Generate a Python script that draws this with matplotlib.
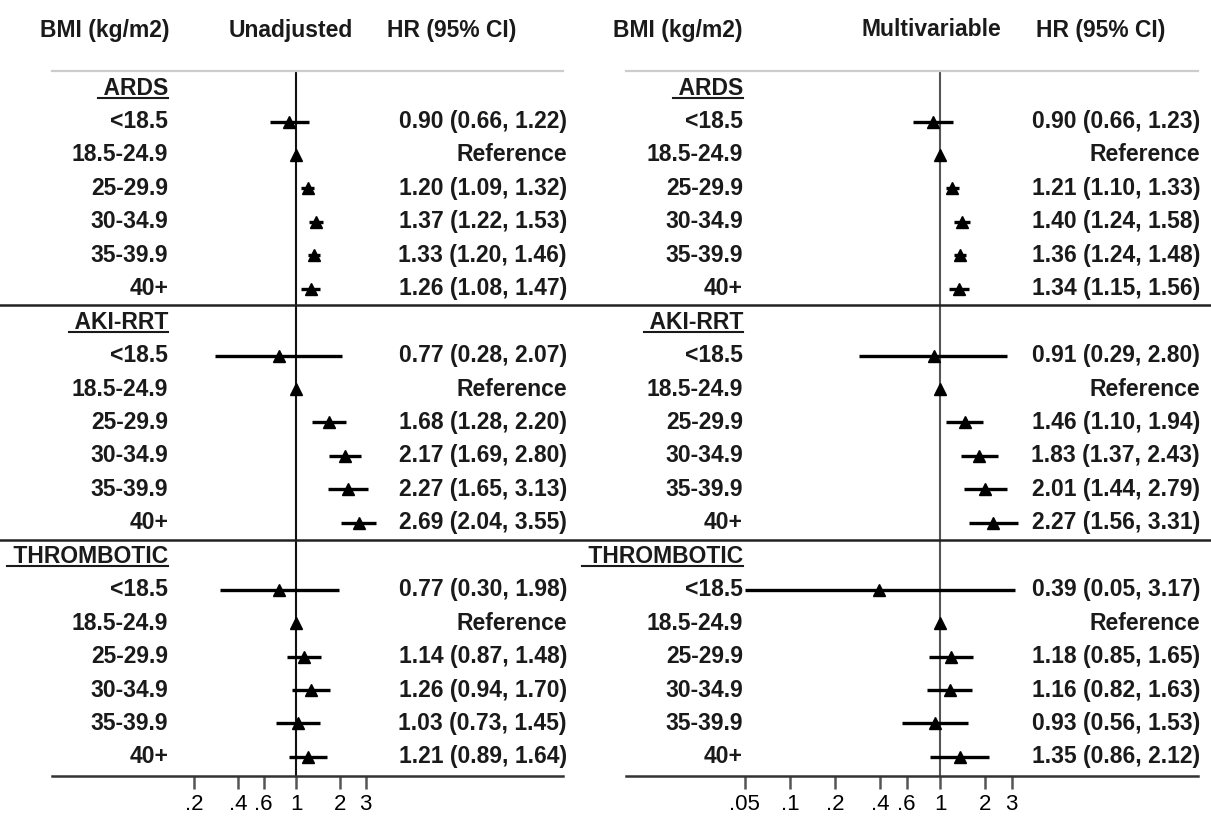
import numpy as np
import matplotlib
matplotlib.use('Agg')
import matplotlib.pyplot as plt
from matplotlib.lines import Line2D
from matplotlib import transforms

# Datos del forest plot
categorias = ['ARDS', 'AKI-RRT', 'THROMBOTIC']
grupos_bmi = ['<18.5', '18.5-24.9', '25-29.9', '30-34.9', '35-39.9', '40+']

# Sin ajustar (None = categoria de referencia)
hr_sin = [0.90, None, 1.20, 1.37, 1.33, 1.26,
          0.77, None, 1.68, 2.17, 2.27, 2.69,
          0.77, None, 1.14, 1.26, 1.03, 1.21]
li_sin = [0.66, None, 1.09, 1.22, 1.20, 1.08,
          0.28, None, 1.28, 1.69, 1.65, 2.04,
          0.30, None, 0.87, 0.94, 0.73, 0.89]
ls_sin = [1.22, None, 1.32, 1.53, 1.46, 1.47,
          2.07, None, 2.20, 2.80, 3.13, 3.55,
          1.98, None, 1.48, 1.70, 1.45, 1.64]

# Multivariable
hr_mul = [0.90, None, 1.21, 1.40, 1.36, 1.34,
          0.91, None, 1.46, 1.83, 2.01, 2.27,
          0.39, None, 1.18, 1.16, 0.93, 1.35]
li_mul = [0.66, None, 1.10, 1.24, 1.24, 1.15,
          0.29, None, 1.10, 1.37, 1.44, 1.56,
          0.05, None, 0.85, 0.82, 0.56, 0.86]
ls_mul = [1.23, None, 1.33, 1.58, 1.48, 1.56,
          2.80, None, 1.94, 2.43, 2.79, 3.31,
          3.17, None, 1.65, 1.63, 1.53, 2.12]

ticks_sin = [0.2, 0.4, 0.6, 1, 2, 3]
etiq_ticks_sin = ['.2', '.4', '.6', '1', '2', '3']
ticks_mul = [0.05, 0.1, 0.2, 0.4, 0.6, 1, 2, 3]
etiq_ticks_mul = ['.05', '.1', '.2', '.4', '.6', '1', '2', '3']

encabezados_sin = ['BMI (kg/m2)', 'Unadjusted', 'HR (95% CI)']
encabezados_mul = ['BMI (kg/m2)', 'Multivariable', 'HR (95% CI)']

W, H = 1211, 824
plt.rcParams['font.family'] = ['Liberation Sans', 'DejaVu Sans']
TAM = 16.5


def dibujar_panel(fig, caja, uno_px, px_decada, hr, li, ls, ticks, etiq_ticks,
                  x_etiq, x_hr, color_ref):
    x0, x1, y0, y1 = caja
    ax = fig.add_axes([x0 / W, 1 - y1 / H, (x1 - x0) / W, (y1 - y0) / H])
    ax.set_xscale('log')
    ax.set_xlim(10 ** (-(uno_px - x0) / px_decada), 10 ** ((x1 - uno_px) / px_decada))
    ax.set_ylim(20.57, -0.51)
    ax.minorticks_off()
    ax.set_xticks(ticks)
    ax.set_xticklabels(etiq_ticks)
    ax.set_yticks([])
    ax.tick_params(axis='x', length=9, width=1.8, color='#555555',
                   labelsize=16, pad=4)
    ax.spines['left'].set_visible(False)
    ax.spines['right'].set_visible(False)
    ax.spines['top'].set_color('#cccccc')
    ax.spines['top'].set_linewidth(1.6)
    ax.spines['bottom'].set_color('#333333')
    ax.spines['bottom'].set_linewidth(1.8)

    ax.axvline(1, color=color_ref, lw=1.5, zorder=1)

    tr = ax.get_yaxis_transform()
    fx_etiq = (x_etiq - x0) / (x1 - x0)
    fx_hr = (x_hr - x0) / (x1 - x0)
    titulos = []
    for c, cat in enumerate(categorias):
        fila = 7 * c
        t = ax.text(fx_etiq, fila, ' ' + cat, transform=tr, ha='right', va='center',
                    fontsize=TAM, weight='bold', color='#1a1a1a', clip_on=False)
        titulos.append(t)
        for g, grupo in enumerate(grupos_bmi):
            k = 6 * c + g
            y = fila + 1 + g
            ax.text(fx_etiq, y, grupo, transform=tr, ha='right', va='center',
                    fontsize=TAM, weight='bold', color='#1a1a1a', clip_on=False)
            if hr[k] is None:
                ax.plot([1], [y], marker='^', ms=9, color='black', zorder=3)
                ax.text(fx_hr, y, 'Reference', transform=tr, ha='right',
                        va='center', fontsize=TAM, weight='bold',
                        color='#1a1a1a', clip_on=False)
            else:
                ax.plot([li[k], ls[k]], [y, y], color='black', lw=2.4,
                        solid_capstyle='butt', zorder=2)
                ax.plot([hr[k]], [y], marker='^', ms=9, color='black', zorder=3)
                txt = '%.2f (%.2f, %.2f)' % (hr[k], li[k], ls[k])
                ax.text(fx_hr, y, txt, transform=tr, ha='right', va='center',
                        fontsize=TAM, weight='bold', color='#1a1a1a',
                        clip_on=False)
    return ax, titulos


def main():
    fig = plt.figure(figsize=(W / 100, H / 100), dpi=100)

    ax1, tit1 = dibujar_panel(fig, (52, 563, 71, 776), 296, 146,
                              hr_sin, li_sin, ls_sin, ticks_sin, etiq_ticks_sin,
                              168, 567, '#111111')
    ax2, tit2 = dibujar_panel(fig, (626, 1198, 71, 776), 940, 150,
                              hr_mul, li_mul, ls_mul, ticks_mul, etiq_ticks_mul,
                              743, 1200, '#555555')

    # Encabezados
    for x, txt in zip([105, 291, 452], encabezados_sin):
        fig.text(x / W, 1 - 30 / H, txt, ha='center', va='center',
                 fontsize=TAM, weight='bold', color='#1a1a1a')
    for x, txt in zip([678, 931, 1101], encabezados_mul):
        fig.text(x / W, 1 - 30 / H, txt, ha='center', va='center',
                 fontsize=TAM, weight='bold', color='#1a1a1a')

    # Lineas separadoras entre categorias (todo el ancho)
    tr_sep = transforms.blended_transform_factory(fig.transFigure, ax1.transData)
    for y in [6.5, 13.5]:
        fig.add_artist(Line2D([0, 1], [y, y], transform=tr_sep,
                              color='#222222', lw=1.8))

    # Subrayado de los titulos
    fig.canvas.draw()
    rend = fig.canvas.get_renderer()
    inv = fig.transFigure.inverted()
    for t in tit1 + tit2:
        bb = t.get_window_extent(rend)
        (a0, b0), (a1, _) = inv.transform([(bb.x0, bb.y0 + 2), (bb.x1, bb.y0 + 2)])
        fig.add_artist(Line2D([a0, a1], [b0, b0], transform=fig.transFigure,
                              color='#1a1a1a', lw=1.5))

    fig.savefig('out.png', dpi=100)


if __name__ == "__main__":
    main()
